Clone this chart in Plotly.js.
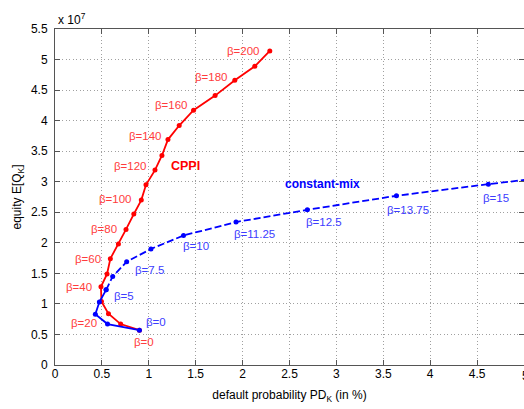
<!DOCTYPE html>
<html>
<head>
<meta charset="utf-8">
<script src="https://cdn.plot.ly/plotly-3.0.1.min.js"></script>
<style>html,body{margin:0;padding:0;background:#fff;}#chart{width:524px;height:409px;}</style>
</head>
<body>
<div id="chart"></div>
<script>
// CPPI curve (beta = 0,10,...,200); equity in units of 1e7
const cppiBeta = [0,10,20,30,40,50,60,70,80,90,100,110,120,130,140,150,160,170,180,190,200];
const cppiPD = [0.90,0.70,0.57,0.495,0.49,0.555,0.59,0.676,0.757,0.84,0.92,0.97,1.066,1.14,1.204,1.324,1.477,1.707,1.917,2.13,2.29];
const cppiEQ = [0.57,0.67,0.84,1.04,1.28,1.49,1.74,1.98,2.22,2.47,2.70,2.95,3.19,3.43,3.69,3.92,4.17,4.41,4.66,4.89,5.14];

// constant-mix curve (beta = 0,1.25,...,16.25)
const cmBeta = [0,1.25,2.5,3.75,5,6.25,7.5,8.75,10,11.25,12.5,13.75,15,16.25];
const cmPD = [0.90,0.56,0.43,0.473,0.545,0.615,0.764,1.023,1.37,1.93,2.69,3.64,4.62,5.62];
const cmEQ = [0.57,0.67,0.83,1.03,1.23,1.45,1.69,1.90,2.12,2.34,2.54,2.77,2.96,3.14];

// labelled betas
const cppiLabelBeta = [0,20,40,60,80,100,120,140,160,180,200];
const cmLabelBeta = [0,5,7.5,10,11.25,12.5,13.75,15];

const xTicks = [0,0.5,1,1.5,2,2.5,3,3.5,4,4.5,5];
const yTicks = [0,0.5,1,1.5,2,2.5,3,3.5,4,4.5,5,5.5];

const RED = '#ff0000', BLUE = '#0000ff';
const RED_L = '#ff3c3c', BLUE_L = '#3c3cff';
const FONT = 'Liberation Sans, Arial, sans-serif';

const splitIdx = cmBeta.indexOf(5);
const traces = [
  {x: cppiPD, y: cppiEQ, mode: 'lines+markers', line: {color: RED, width: 1.8},
   marker: {color: RED, size: 5}, hoverinfo: 'none'},
  {x: cmPD.slice(0, splitIdx + 1), y: cmEQ.slice(0, splitIdx + 1), mode: 'lines+markers',
   line: {color: BLUE, width: 1.8}, marker: {color: BLUE, size: 5}, hoverinfo: 'none'},
  {x: cmPD.slice(splitIdx), y: cmEQ.slice(splitIdx), mode: 'lines+markers',
   line: {color: BLUE, width: 1.8, dash: '7px,3px'}, marker: {color: BLUE, size: 5}, hoverinfo: 'none'}
];

// per-label pixel offsets (style only)
const cppiShift = {0:[5,-12,'center'],20:[-9,-9,'right'],40:[-7,0,'right'],60:[-7,0,'right'],80:[-7,0,'right'],
  100:[-7,1,'right'],120:[-6,4,'right'],140:[-4,4,'right'],160:[-4,5,'right'],180:[-5,3,'right'],200:[-8,0,'right']};
const cmShift = {0:[5,8,'left'],5:[6,-6,'left'],7.5:[6,-8,'left'],10:[-3,-11,'left'],11.25:[-4,-12,'left'],
  12.5:[-3,-12,'left'],13.75:[-11,-14,'left'],15:[-7,-14,'left']};

const annotations = [];
cppiLabelBeta.forEach(b => {
  const i = cppiBeta.indexOf(b); const s = cppiShift[b];
  annotations.push({x: cppiPD[i], y: cppiEQ[i], xref: 'x', yref: 'y', text: 'β=' + b, showarrow: false,
    xanchor: s[2], yanchor: 'middle', xshift: s[0], yshift: s[1], font: {family: FONT, size: 11.5, color: RED_L}});
});
cmLabelBeta.forEach(b => {
  const i = cmBeta.indexOf(b); const s = cmShift[b];
  annotations.push({x: cmPD[i], y: cmEQ[i], xref: 'x', yref: 'y', text: 'β=' + b, showarrow: false,
    xanchor: s[2], yanchor: 'middle', xshift: s[0], yshift: s[1], font: {family: FONT, size: 11.5, color: BLUE_L}});
});
annotations.push({x: 1.386, y: 3.26, xref: 'x', yref: 'y', text: '<b>CPPI</b>', showarrow: false,
  font: {family: FONT, size: 12.5, color: RED}});
annotations.push({x: 2.85, y: 2.96, xref: 'x', yref: 'y', text: '<b>constant-mix</b>', showarrow: false,
  font: {family: FONT, size: 12, color: BLUE}});
annotations.push({x: 0, y: 1, xref: 'paper', yref: 'paper', text: 'x 10<sup>7</sup>', showarrow: false,
  xanchor: 'left', yanchor: 'bottom', xshift: 1, yshift: 0, font: {family: FONT, size: 12, color: '#000'}});
// last x tick label, partly cut by the page edge as in the reference
const lastX = xTicks[xTicks.length - 1];
annotations.push({x: lastX, y: 0, xref: 'x', yref: 'y', text: String(lastX), showarrow: false,
  xanchor: 'center', yanchor: 'top', xshift: 1, yshift: -2, font: {family: FONT, size: 12, color: '#000'}});

const axisCommon = {
  showline: true, linecolor: '#555', linewidth: 1, mirror: 'ticks',
  ticks: 'inside', ticklen: 5, tickcolor: '#555',
  showgrid: true, gridcolor: '#a0a0a0', griddash: '1px,2.5px', gridwidth: 1,
  zeroline: false, tickfont: {family: FONT, size: 12, color: '#000'}
};

const layout = {
  width: 524, height: 409,
  margin: {l: 55, r: 0, t: 29, b: 44},
  paper_bgcolor: '#fff', plot_bgcolor: '#fff',
  showlegend: false,
  font: {family: FONT},
  xaxis: Object.assign({}, axisCommon, {range: [0, 5], tickvals: xTicks, ticktext: xTicks.map(String),
    ticklabelstandoff: -2,
    title: {text: 'default probability PD<sub>K</sub> (in %)', font: {family: FONT, size: 12, color: '#000'}, standoff: 10}}),
  yaxis: Object.assign({}, axisCommon, {range: [0, 5.5], tickvals: yTicks, ticktext: yTicks.map(String),
    ticklabelstandoff: 4,
    title: {text: 'equity E[Q<sub>K</sub>]', font: {family: FONT, size: 12, color: '#000'}, standoff: 6}}),
  annotations: annotations
};

Plotly.newPlot('chart', traces, layout, {staticPlot: true, displayModeBar: false});
</script>
</body>
</html>
